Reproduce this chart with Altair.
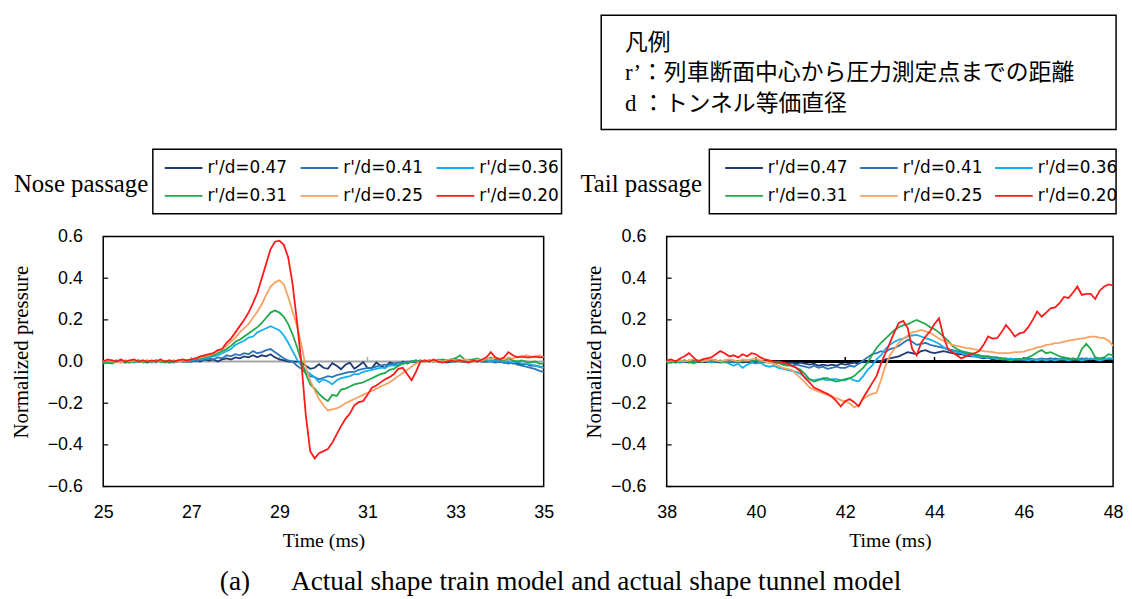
import altair as alt
import pandas as pd

# ---------------- data ----------------
SERIES = ["r'/d=0.47", "r'/d=0.41", "r'/d=0.36", "r'/d=0.31", "r'/d=0.25", "r'/d=0.20"]
COLORS = ["#1F3A73", "#2E75B6", "#17B0EE", "#20A94A", "#F5A262", "#FF1A1A"]

Y_TICKS = [-0.6, -0.4, -0.2, 0.0, 0.2, 0.4, 0.6]
NOSE_X_TICKS = [25, 27, 29, 31, 33, 35]
TAIL_X_TICKS = [38, 40, 42, 44, 46, 48]

NOSE_TIME = [25.0, 25.1, 25.2, 25.3, 25.4, 25.5, 25.6, 25.7, 25.8, 25.9,
             26.0, 26.1, 26.2, 26.3, 26.4, 26.5, 26.6, 26.7, 26.8, 26.9,
             27.0, 27.1, 27.2, 27.3, 27.4, 27.5, 27.6, 27.7, 27.8, 27.9,
             28.0, 28.1, 28.2, 28.3, 28.4, 28.5, 28.6, 28.7, 28.8, 28.9,
             29.0, 29.1, 29.2, 29.3, 29.4, 29.5, 29.6, 29.7, 29.8, 29.9,
             30.0, 30.1, 30.2, 30.3, 30.4, 30.5, 30.6, 30.7, 30.8, 30.9,
             31.0, 31.1, 31.2, 31.3, 31.4, 31.5, 31.6, 31.7, 31.8, 31.9,
             32.0, 32.1, 32.2, 32.3, 32.4, 32.5, 32.6, 32.7, 32.8, 32.9,
             33.0, 33.1, 33.2, 33.3, 33.4, 33.5, 33.6, 33.7, 33.8, 33.9,
             34.0, 34.1, 34.2, 34.3, 34.4, 34.5, 34.6, 34.7, 34.8, 34.9, 35.0]

NOSE_047 = [0.0, -0.005, 0.0, 0.005, 0.0, -0.005, 0.0, 0.0, 0.005, 0.0,
            -0.005, 0.0, 0.005, 0.0, 0.0, -0.005, 0.0, 0.005, 0.0, 0.0,
            0.0, 0.005, 0.0, 0.01, 0.005, 0.01, 0.0, 0.01, 0.015, 0.01,
            0.02, 0.015, 0.025, 0.02, 0.03, 0.02, 0.03, 0.025, 0.035, 0.02,
            0.01, 0.005, 0.0, 0.0, 0.0, -0.005, -0.02, -0.035, -0.03, -0.013,
            -0.03, -0.035, -0.008, -0.02, -0.037, -0.015, -0.005, -0.035, -0.02, -0.002,
            -0.03, -0.03, -0.005, -0.02, -0.03, -0.005, -0.01, -0.02, 0.0, -0.01,
            0.0, -0.005, 0.005, 0.0, 0.005, 0.0, 0.005, 0.0, -0.005, 0.0,
            0.005, 0.0, 0.0, 0.005, 0.0, 0.005, 0.0, 0.0, 0.005, 0.0,
            0.0, -0.005, 0.0, -0.01, -0.005, -0.015, -0.01, -0.02, -0.02, -0.025, -0.03]

NOSE_041 = [0.0, 0.005, -0.005, 0.0, 0.005, 0.0, -0.005, 0.005, 0.0, 0.0,
            0.005, -0.005, 0.0, 0.005, 0.0, 0.0, -0.005, 0.0, 0.005, 0.0,
            0.005, 0.0, 0.01, 0.005, 0.015, 0.01, 0.02, 0.015, 0.03, 0.025,
            0.035, 0.03, 0.04, 0.035, 0.05, 0.04, 0.045, 0.055, 0.06, 0.045,
            0.03, 0.015, 0.005, 0.0, -0.02, -0.035, -0.055, -0.07, -0.075, -0.085,
            -0.078, -0.07, -0.075, -0.065, -0.06, -0.055, -0.05, -0.05, -0.04, -0.035,
            -0.03, -0.03, -0.025, -0.02, -0.015, -0.015, -0.01, -0.005, -0.005, 0.0,
            0.0, 0.005, 0.0, 0.005, 0.0, 0.005, 0.0, 0.0, 0.005, 0.0,
            0.0, 0.005, 0.0, 0.0, 0.005, 0.0, 0.005, 0.0, 0.0, -0.005,
            0.0, -0.005, -0.01, -0.005, -0.015, -0.02, -0.025, -0.03, -0.035, -0.045, -0.05]

NOSE_036 = [0.0, -0.005, 0.005, 0.0, 0.0, 0.005, 0.0, -0.005, 0.0, 0.005,
            0.0, 0.0, -0.005, 0.005, 0.0, 0.005, 0.0, 0.0, 0.005, 0.0,
            0.005, 0.01, 0.01, 0.015, 0.02, 0.025, 0.03, 0.04, 0.05, 0.06,
            0.08, 0.09, 0.1, 0.115, 0.12, 0.14, 0.15, 0.16, 0.17, 0.16,
            0.15, 0.125, 0.09, 0.05, 0.01, -0.02, -0.043, -0.06, -0.075, -0.1,
            -0.085, -0.095, -0.11, -0.09, -0.08, -0.075, -0.07, -0.06, -0.06, -0.05,
            -0.045, -0.04, -0.035, -0.03, -0.03, -0.02, -0.02, -0.015, -0.01, -0.005,
            0.0, 0.0, 0.005, 0.0, 0.005, 0.0, 0.01, 0.005, 0.0, 0.005,
            0.01, 0.005, 0.0, 0.01, 0.005, 0.0, 0.005, 0.01, 0.0, 0.005,
            0.005, 0.0, 0.0, -0.005, 0.0, -0.01, -0.01, -0.015, -0.02, -0.025, -0.03]

NOSE_031 = [-0.01, -0.005, -0.01, 0.0, -0.005, 0.0, -0.005, 0.0, 0.005, -0.005,
            0.0, 0.0, 0.005, 0.0, -0.005, 0.0, 0.005, 0.0, 0.005, 0.0,
            0.01, 0.01, 0.015, 0.02, 0.025, 0.03, 0.04, 0.05, 0.06, 0.075,
            0.095, 0.105, 0.12, 0.135, 0.15, 0.165, 0.185, 0.21, 0.235, 0.245,
            0.235, 0.215, 0.18, 0.13, 0.07, 0.0, -0.06, -0.11, -0.13, -0.155,
            -0.175, -0.19, -0.16, -0.165, -0.135, -0.13, -0.12, -0.11, -0.105, -0.1,
            -0.09, -0.08, -0.07, -0.06, -0.055, -0.04, -0.035, -0.02, -0.01, -0.005,
            0.0, 0.005, 0.0, 0.0, 0.005, 0.0, 0.005, 0.01, 0.005, 0.01,
            0.015, 0.03, 0.01, 0.005, 0.01, 0.015, 0.005, 0.01, 0.02, 0.01,
            0.01, 0.005, 0.015, 0.005, 0.0, 0.005, 0.0, -0.005, 0.0, -0.01, -0.01]

NOSE_025 = [0.0, 0.005, 0.0, 0.0, -0.005, 0.005, 0.0, 0.005, 0.0, 0.0,
            0.005, 0.0, 0.0, 0.005, 0.0, 0.005, 0.0, 0.0, 0.005, 0.005,
            0.01, 0.015, 0.02, 0.025, 0.03, 0.04, 0.05, 0.06, 0.075, 0.095,
            0.115, 0.14, 0.16, 0.18, 0.21, 0.24, 0.275, 0.32, 0.36, 0.38,
            0.39, 0.37, 0.31, 0.24, 0.17, 0.08, -0.03, -0.09, -0.14, -0.18,
            -0.21, -0.235, -0.23, -0.225, -0.215, -0.2, -0.19, -0.18, -0.17, -0.16,
            -0.15, -0.14, -0.13, -0.12, -0.11, -0.1, -0.085, -0.07, -0.055, -0.04,
            -0.025, -0.01, 0.0, 0.0, 0.005, 0.0, 0.005, 0.0, 0.005, 0.01,
            0.005, 0.0, 0.01, 0.005, 0.0, 0.01, 0.005, 0.015, 0.01, 0.02,
            0.015, 0.01, 0.02, 0.015, 0.025, 0.02, 0.03, 0.025, 0.02, 0.03, 0.02]

NOSE_020 = [0.0, 0.01, 0.005, 0.0, 0.01, 0.0, 0.005, 0.01, 0.0, 0.005,
            0.0, 0.005, 0.0, 0.01, 0.0, 0.005, 0.0, 0.005, 0.01, 0.005,
            0.01, 0.015, 0.025, 0.03, 0.035, 0.04, 0.055, 0.06, 0.09, 0.11,
            0.14, 0.17, 0.2, 0.235, 0.28, 0.33, 0.4, 0.47, 0.54, 0.575,
            0.58, 0.56, 0.5, 0.37, 0.19, -0.01, -0.26, -0.43, -0.465, -0.44,
            -0.43, -0.42, -0.39, -0.35, -0.31, -0.275, -0.25, -0.21, -0.195, -0.19,
            -0.16, -0.125, -0.115, -0.1, -0.085, -0.075, -0.06, -0.035, -0.03, -0.06,
            -0.09, -0.05, 0.0, 0.005, 0.0, 0.01, 0.0, -0.005, 0.0, 0.005,
            0.0, 0.005, 0.0, -0.005, 0.005, 0.0, 0.01, 0.02, 0.045, 0.02,
            0.01, 0.02, 0.045, 0.03, 0.02, 0.025, 0.02, 0.02, 0.025, 0.02, 0.02]

TAIL_TIME = [38.0, 38.1, 38.2, 38.3, 38.4, 38.5, 38.6, 38.7, 38.8, 38.9,
             39.0, 39.1, 39.2, 39.3, 39.4, 39.5, 39.6, 39.7, 39.8, 39.9,
             40.0, 40.1, 40.2, 40.3, 40.4, 40.5, 40.6, 40.7, 40.8, 40.9,
             41.0, 41.1, 41.2, 41.3, 41.4, 41.5, 41.6, 41.7, 41.8, 41.9,
             42.0, 42.1, 42.2, 42.3, 42.4, 42.5, 42.6, 42.7, 42.8, 42.9,
             43.0, 43.1, 43.2, 43.3, 43.4, 43.5, 43.6, 43.7, 43.8, 43.9,
             44.0, 44.1, 44.2, 44.3, 44.4, 44.5, 44.6, 44.7, 44.8, 44.9,
             45.0, 45.1, 45.2, 45.3, 45.4, 45.5, 45.6, 45.7, 45.8, 45.9,
             46.0, 46.1, 46.2, 46.3, 46.4, 46.5, 46.6, 46.7, 46.8, 46.9,
             47.0, 47.1, 47.2, 47.3, 47.4, 47.5, 47.6, 47.7, 47.8, 47.9, 48.0]

TAIL_047 = [0.0, -0.005, 0.0, 0.005, 0.0, -0.005, 0.0, 0.005, 0.0, 0.0,
            0.005, 0.0, -0.005, 0.0, 0.005, 0.0, 0.0, -0.005, 0.0, 0.005,
            0.0, -0.005, 0.0, 0.0, -0.005, 0.0, -0.005, -0.01, -0.005, -0.01,
            -0.005, -0.01, -0.015, -0.01, -0.02, -0.015, -0.02, -0.015, -0.02, -0.01,
            -0.015, -0.01, -0.005, -0.01, 0.0, -0.005, 0.0, 0.005, 0.0, 0.01,
            0.015, 0.02, 0.025, 0.035, 0.045, 0.04, 0.035, 0.05, 0.055, 0.045,
            0.04, 0.045, 0.05, 0.045, 0.04, 0.035, 0.035, 0.03, 0.025, 0.025,
            0.02, 0.015, 0.02, 0.01, 0.015, 0.01, 0.01, 0.005, 0.01, 0.01,
            0.005, 0.01, 0.01, 0.005, 0.01, 0.01, 0.015, 0.01, 0.01, 0.015,
            0.01, 0.015, 0.01, 0.01, 0.015, 0.01, 0.015, 0.01, 0.015, 0.01, 0.01]

TAIL_041 = [0.0, 0.005, 0.0, -0.005, 0.0, 0.005, 0.0, 0.0, 0.005, 0.0,
            0.0, 0.005, 0.0, 0.005, 0.0, -0.005, 0.0, 0.005, 0.0, 0.0,
            0.005, 0.0, -0.005, 0.0, -0.01, -0.005, -0.015, -0.01, -0.02, -0.015,
            -0.02, -0.025, -0.03, -0.02, -0.03, -0.025, -0.035, -0.03, -0.025, -0.03,
            -0.03, -0.02, -0.025, -0.01, 0.005, 0.02, 0.035, 0.04, 0.05, 0.045,
            0.06, 0.065, 0.075, 0.09, 0.105, 0.095, 0.08, 0.085, 0.09, 0.08,
            0.075, 0.07, 0.065, 0.06, 0.055, 0.05, 0.045, 0.04, 0.035, 0.03,
            0.03, 0.025, 0.025, 0.02, 0.02, 0.015, 0.015, 0.01, 0.01, 0.01,
            0.01, 0.015, 0.01, 0.01, 0.015, 0.01, 0.01, 0.015, 0.01, 0.01,
            0.015, 0.01, 0.01, 0.015, 0.01, 0.01, 0.015, 0.01, 0.01, 0.015, 0.01]

TAIL_036 = [0.0, 0.0, -0.005, 0.0, 0.005, 0.0, -0.01, 0.0, 0.005, 0.0,
            -0.005, 0.0, 0.005, 0.0, -0.01, -0.02, -0.01, -0.03, -0.015, -0.005,
            -0.01, -0.005, -0.02, -0.025, -0.02, -0.03, -0.035, -0.04, -0.045, -0.05,
            -0.06, -0.075, -0.085, -0.09, -0.085, -0.085, -0.09, -0.085, -0.085, -0.09,
            -0.09, -0.08, -0.09, -0.095, -0.07, -0.04, -0.02, 0.01, 0.03, 0.06,
            0.08, 0.095, 0.105, 0.11, 0.12, 0.125, 0.128, 0.12, 0.112, 0.105,
            0.096, 0.085, 0.07, 0.056, 0.05, 0.045, 0.04, 0.032, 0.03, 0.025,
            0.022, 0.02, 0.02, 0.015, 0.015, 0.01, 0.01, 0.015, 0.01, 0.01,
            0.01, 0.005, 0.01, 0.005, 0.01, 0.005, 0.01, 0.005, 0.01, 0.01,
            0.005, 0.01, 0.01, 0.005, 0.01, 0.015, 0.01, 0.005, 0.01, 0.015, 0.015]

TAIL_031 = [-0.01, 0.0, -0.005, 0.0, 0.005, 0.0, -0.005, 0.0, 0.0, 0.005,
            0.0, 0.005, 0.0, -0.005, 0.0, 0.005, 0.0, 0.0, 0.005, 0.0,
            0.005, 0.0, 0.0, -0.005, -0.01, -0.005, -0.015, -0.02, -0.02, -0.03,
            -0.04, -0.06, -0.085, -0.096, -0.09, -0.08, -0.08, -0.09, -0.096, -0.09,
            -0.085, -0.08, -0.07, -0.05, -0.03, -0.005, 0.03, 0.065, 0.09, 0.11,
            0.13, 0.15, 0.165, 0.175, 0.18, 0.19, 0.2, 0.19, 0.18, 0.165,
            0.155, 0.14, 0.12, 0.1, 0.075, 0.06, 0.05, 0.045, 0.04, 0.035,
            0.03, 0.025, 0.025, 0.02, 0.02, 0.015, 0.01, 0.005, 0.01, 0.01,
            0.015, 0.02, 0.03, 0.045, 0.055, 0.04, 0.045, 0.035, 0.025, 0.02,
            0.015, 0.01, 0.01, 0.06, 0.085, 0.06, 0.02, 0.015, 0.02, 0.035, 0.03]

TAIL_025 = [0.0, 0.005, 0.0, 0.005, 0.0, 0.005, 0.01, 0.005, 0.0, 0.005,
            0.01, 0.005, 0.0, 0.005, 0.01, 0.005, 0.0, 0.01, 0.005, 0.01,
            0.015, 0.005, 0.0, -0.005, -0.01, -0.02, -0.03, -0.035, -0.04, -0.06,
            -0.08, -0.1, -0.125, -0.135, -0.145, -0.152, -0.16, -0.17, -0.176, -0.185,
            -0.192, -0.2, -0.22, -0.21, -0.18, -0.165, -0.155, -0.15, -0.09, -0.02,
            0.03, 0.06, 0.09, 0.11, 0.125, 0.14, 0.145, 0.152, 0.145, 0.138,
            0.125, 0.11, 0.1, 0.09, 0.08, 0.075, 0.07, 0.065, 0.063, 0.058,
            0.055, 0.05, 0.048, 0.045, 0.042, 0.04, 0.04, 0.042, 0.045, 0.045,
            0.048, 0.055, 0.06, 0.068, 0.072, 0.08, 0.082, 0.088, 0.09, 0.095,
            0.1, 0.104, 0.108, 0.11, 0.115, 0.12, 0.12, 0.115, 0.112, 0.1, 0.075]

TAIL_020 = [0.005, 0.01, 0.0, 0.015, 0.025, 0.04, 0.02, 0.0, 0.01, 0.015,
            0.02, 0.035, 0.05, 0.04, 0.025, 0.03, 0.02, 0.035, 0.025, 0.04,
            0.035, 0.02, 0.01, 0.005, 0.0, 0.0, -0.005, -0.01, -0.02, -0.03,
            -0.05, -0.08, -0.1, -0.125, -0.135, -0.145, -0.155, -0.168, -0.19, -0.215,
            -0.19, -0.18, -0.195, -0.215, -0.175, -0.14, -0.105, -0.07, -0.01, 0.04,
            0.09, 0.14, 0.185, 0.195, 0.16, 0.06, 0.03, 0.09, 0.12, 0.145,
            0.18, 0.208, 0.12, 0.06, 0.045, 0.03, 0.015, 0.025, 0.035, 0.04,
            0.05, 0.08, 0.12, 0.11, 0.112, 0.14, 0.175, 0.15, 0.12, 0.135,
            0.14, 0.165, 0.2, 0.24, 0.215, 0.235, 0.255, 0.26, 0.28, 0.31,
            0.305, 0.33, 0.36, 0.32, 0.325, 0.325, 0.3, 0.34, 0.36, 0.37, 0.365]

NOTE_LINES = ["凡例", "r’：列車断面中心から圧力測定点までの距離", "d ：トンネル等価直径"]
CAPTION = "(a)\u00a0\u00a0\u00a0\u00a0\u00a0\u00a0Actual shape train model and actual shape tunnel model"


def to_long(time, series_values):
    frames = []
    for name, vals in zip(SERIES, series_values):
        assert len(vals) == len(time), name
        frames.append(pd.DataFrame({"time": time, "p": vals, "series": name}))
    return pd.concat(frames, ignore_index=True)


nose_df = to_long(NOSE_TIME, [NOSE_047, NOSE_041, NOSE_036, NOSE_031, NOSE_025, NOSE_020])
tail_df = to_long(TAIL_TIME, [TAIL_047, TAIL_041, TAIL_036, TAIL_031, TAIL_025, TAIL_020])

SERIF = "Liberation Serif"
SANS = "Liberation Sans"
H = 252
one = pd.DataFrame({"k": [0]})


def text_mark(txt, x, y, font, size, align="left"):
    return alt.Chart(one).mark_text(text=txt, font=font, fontSize=size, align=align,
                                    baseline="middle", color="black").encode(
        x=alt.value(x), y=alt.value(y))


def panel(df, xticks, width, zero_color, zero_width, ylab_pad, ytitle_x,
          leg_x, col_pad, box_x, box_w, passage, passage_x, extra):
    xscale = alt.Scale(domain=[xticks[0], xticks[-1]], nice=False, zero=False)
    yscale = alt.Scale(domain=[-0.6, 0.6], nice=False, zero=False)
    xaxis = alt.Axis(values=xticks, format="d", title="Time (ms)", grid=False,
                     domain=False, ticks=False, tickSize=0, labelFont=SANS,
                     labelFontSize=18, labelColor="black", labelPadding=17,
                     labelFlush=False, titleFont=SERIF, titleFontSize=20,
                     titleFontWeight="normal", titleColor="black", titleY=54,
                     titleBaseline="middle")
    yaxis = alt.Axis(values=Y_TICKS, format=".1f", title="Normalized pressure",
                     grid=False, domain=False, ticks=False, tickSize=0,
                     labelFont=SANS, labelFontSize=18, labelColor="black",
                     labelPadding=ylab_pad, titleFont=SERIF, titleFontSize=21,
                     titleFontWeight="normal", titleColor="black",
                     titleX=ytitle_x, titleY=116, titleBaseline="middle",
                     titleAngle=270)

    zero = alt.Chart(pd.DataFrame({"v": [0.0]})).mark_rule(
        color=zero_color, strokeWidth=zero_width).encode(
        y=alt.Y("v:Q", scale=yscale, axis=yaxis))
    zticks = alt.Chart(pd.DataFrame({"t": xticks[1:-1], "v": [0.0] * (len(xticks) - 2),
                                     "v2": [0.022] * (len(xticks) - 2)})).mark_rule(
        color=zero_color, strokeWidth=1.5).encode(
        x=alt.X("t:Q", scale=xscale, axis=xaxis),
        y=alt.Y("v:Q", scale=yscale, axis=yaxis), y2="v2:Q")
    yticks = alt.Chart(pd.DataFrame({"v": Y_TICKS})).mark_rule(
        color="black", strokeWidth=1.2).encode(
        y=alt.Y("v:Q", scale=yscale, axis=yaxis),
        x=alt.value(0), x2=alt.value(5))
    lines = alt.Chart(df).mark_line(strokeWidth=1.8).encode(
        x=alt.X("time:Q", scale=xscale, axis=xaxis),
        y=alt.Y("p:Q", scale=yscale, axis=yaxis),
        color=alt.Color("series:N", sort=SERIES,
                        scale=alt.Scale(domain=SERIES, range=COLORS),
                        legend=alt.Legend(title=None, orient="none", legendX=leg_x,
                                          legendY=-89, columns=3, direction="horizontal",
                                          symbolType="stroke",
                                          symbolSize=1444, symbolStrokeWidth=2,
                                          labelFont="DejaVu Sans", labelFontSize=17,
                                          labelColor="black", labelOffset=4,
                                          columnPadding=col_pad, rowPadding=0,
                                          padding=0, labelLimit=300)),
        detail="series:N")
    legbox = alt.Chart(one).mark_rect(filled=False, stroke="black", strokeWidth=1.5).encode(
        x=alt.value(box_x), x2=alt.value(box_x + box_w),
        y=alt.value(-88), y2=alt.value(-23))
    ptext = text_mark(passage, passage_x, -53, SERIF, 25)
    layers = [zero, zticks, yticks, lines, legbox, ptext] + extra
    return alt.layer(*layers).properties(width=width, height=H)


caption = text_mark(CAPTION, 461, 348, SERIF, 27.5, align="center")

JP_FONT = "Liberation Serif, Noto Sans CJK JP"
note_box = alt.Chart(one).mark_rect(filled=False, stroke="black", strokeWidth=1.5).encode(
    x=alt.value(-66), x2=alt.value(453), y=alt.value(-223), y2=alt.value(-108))
note_lines = [text_mark(NOTE_LINES[0], -42, -195, JP_FONT, 23),
              text_mark(NOTE_LINES[1], -42, -165, JP_FONT, 23),
              text_mark(NOTE_LINES[2], -42, -134, JP_FONT, 23)]

left = panel(nose_df, NOSE_X_TICKS, 444, "#A6A6A6", 2, 21, -82, 61, 9, 50, 412,
             "Nose passage", -90, [caption])
right = panel(tail_df, TAIL_X_TICKS, 450, "black", 3, 21, -73, 58, 8, 43, 410,
              "Tail passage", -87, [note_box] + note_lines)

chart = alt.hconcat(left, right, spacing=124, bounds="flush").resolve_scale(
    color="independent").resolve_legend(color="independent").properties(
    padding={"left": 2, "top": 3, "right": 0, "bottom": 0},
    background="white").configure_view(stroke="black", strokeWidth=1.5)

chart.save("out.html", embed_options={"renderer": "svg", "actions": False})
